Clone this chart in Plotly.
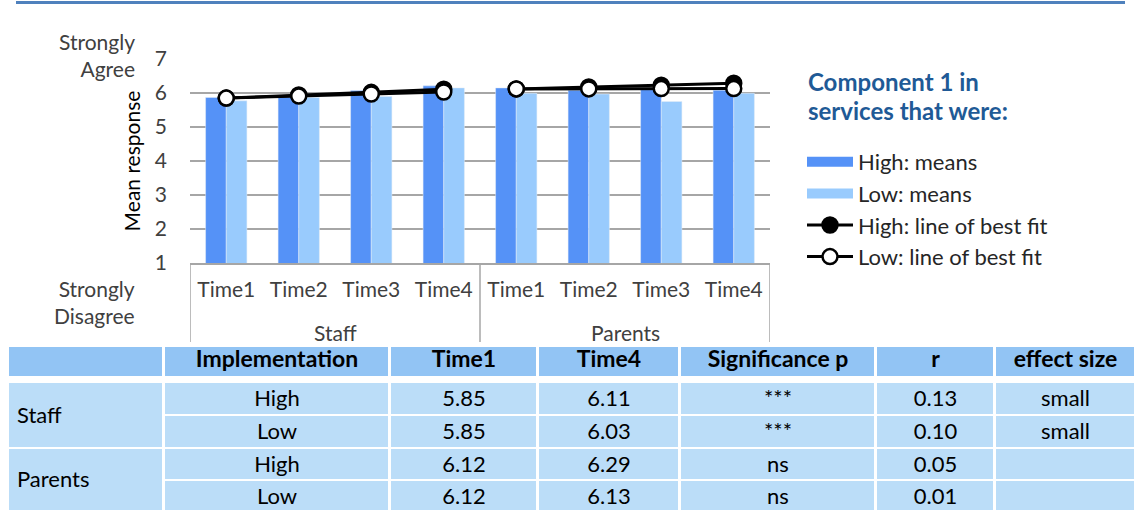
import plotly.graph_objects as go

# chart data
groups = ["Staff", "Parents"]
times = ["Time1", "Time2", "Time3", "Time4"]

high_means = [5.87, 5.88, 6.07, 6.21, 6.15, 6.08, 6.10, 6.08]
low_means = [5.77, 5.87, 5.90, 6.15, 5.99, 5.97, 5.75, 5.99]

high_fit_staff = [5.85, 5.94, 6.02, 6.11]
low_fit_staff = [5.85, 5.91, 5.97, 6.03]
high_fit_parents = [6.12, 6.18, 6.23, 6.29]
low_fit_parents = [6.12, 6.12, 6.13, 6.13]

# table data
table_header = ["", "Implementation", "Time1", "Time4", "Significance p", "r", "effect size"]
table_groups = ["Staff", "Parents"]
implementation = ["High", "Low", "High", "Low"]
time1_vals = ["5.85", "5.85", "6.12", "6.12"]
time4_vals = ["6.11", "6.03", "6.29", "6.13"]
significance = ["***", "***", "ns", "ns"]
r_vals = ["0.13", "0.10", "0.05", "0.01"]
effect_size = ["small", "small", "", ""]

W, H = 1140, 510
HIGH = "#5592F7"
LOW = "#99CBFD"
GRID = "#A6A6A6"
TXT = "#404040"
HEAD_FILL = "#92C4F4"
BODY_FILL = "#BBDDF8"
FONT = "Lato, sans-serif"


def px(v):
    return v / W


def py(v):
    return (H - v) / H


# one category per (group, time); tick text shows only the time
cats = [g + " " + t for g in groups for t in times]
ncat = len(cats)

fig = go.Figure()

fig.add_trace(go.Bar(x=cats, y=high_means, marker_color=HIGH, showlegend=False, name="High: means"))
fig.add_trace(go.Bar(x=cats, y=low_means, marker_color=LOW, showlegend=False, name="Low: means"))

# legend entries for the bars (wide swatches)
fig.add_trace(go.Scatter(x=[None], y=[None], mode="lines", line=dict(color=HIGH, width=12),
                         name="High: means", legendgroup="hm"))
fig.add_trace(go.Scatter(x=[None], y=[None], mode="lines", line=dict(color=LOW, width=12),
                         name="Low: means", legendgroup="lm"))

fits = [("High: line of best fit", "hf", "black", [high_fit_staff, high_fit_parents]),
        ("Low: line of best fit", "lf", "white", [low_fit_staff, low_fit_parents])]
for name, grp, fill, series in fits:
    for gi, g in enumerate(groups):
        fig.add_trace(go.Scatter(
            x=[g + " " + t for t in times], y=series[gi], mode="lines+markers",
            line=dict(color="black", width=3),
            marker=dict(size=15, color=fill, line=dict(color="black", width=2.5)),
            name=name, legendgroup=grp, showlegend=(gi == 0)))

# group labels and box lines under the category axis
annotations = []
shapes = [dict(type="rect", xref="paper", yref="paper", x0=px(16), x1=px(1125),
               y0=py(4), y1=py(1), fillcolor="#4F81BD", line=dict(width=0))]
for gi, g in enumerate(groups):
    annotations.append(dict(text=g, xref="x", yref="paper", x=gi * len(times) + (len(times) - 1) / 2,
                            y=py(332), xanchor="center", yanchor="middle", showarrow=False,
                            font=dict(size=21, color=TXT)))
for k in range(len(groups) + 1):
    shapes.append(dict(type="line", xref="x", yref="paper", x0=k * len(times) - 0.5,
                       x1=k * len(times) - 0.5, y0=py(263), y1=py(342),
                       line=dict(color=GRID, width=1.5)))

# table: cell fills as heatmap bricks on a hidden pixel-like axis
col_edges = [8, 164, 390, 538, 680, 876, 995, 1136]
row_edges = [346, 377, 382, 415, 448, 480, 512]
z = [[0] * 7, [None] * 7]
for _ in range(4):
    z.append([None] + [1] * 6)
fig.add_trace(go.Heatmap(x=col_edges, y=row_edges, z=z, xaxis="x2", yaxis="y2",
                         colorscale=[[0, HEAD_FILL], [1, BODY_FILL]], zmin=0, zmax=1,
                         showscale=False, xgap=3, ygap=2, hoverinfo="skip"))
fig.add_trace(go.Heatmap(x=col_edges[:2], y=[382, 448, 512], z=[[1], [1]], xaxis="x2", yaxis="y2",
                         colorscale=[[0, HEAD_FILL], [1, BODY_FILL]], zmin=0, zmax=1,
                         showscale=False, xgap=3, ygap=2, hoverinfo="skip"))

col_mid = [(a + b) / 2 for a, b in zip(col_edges[:-1], col_edges[1:])]
body_rows = [(a + b) / 2 + 2 for a, b in zip(row_edges[2:-1], row_edges[3:])]
body_cols = [implementation, time1_vals, time4_vals, significance, r_vals, effect_size]

fig.add_trace(go.Scatter(x=col_mid[1:], y=[(row_edges[0] + row_edges[1]) / 2] * 6,
                         text=["<b>%s</b>" % h for h in table_header[1:]], mode="text",
                         textfont=dict(size=23, color="black"), xaxis="x2", yaxis="y2",
                         showlegend=False, hoverinfo="skip"))
tx, ty, tt = [], [], []
for ci, col in enumerate(body_cols):
    for ri, val in enumerate(col):
        tx.append(col_mid[ci + 1])
        ty.append(body_rows[ri])
        tt.append(val)
fig.add_trace(go.Scatter(x=tx, y=ty, text=tt, mode="text", textfont=dict(size=22, color="black"),
                         xaxis="x2", yaxis="y2", showlegend=False, hoverinfo="skip"))
fig.add_trace(go.Scatter(x=[17, 17], y=[417, 481], text=table_groups, mode="text",
                         textposition="middle right", textfont=dict(size=22, color="black"),
                         xaxis="x2", yaxis="y2", showlegend=False, hoverinfo="skip"))

annotations += [
    dict(text="<b>Component 1 in</b>", xref="paper", yref="paper", x=px(806), y=py(82),
         xanchor="left", yanchor="middle", showarrow=False, font=dict(size=24, color="#1F5A96")),
    dict(text="<b>services that were:</b>", xref="paper", yref="paper", x=px(806), y=py(110),
         xanchor="left", yanchor="middle", showarrow=False, font=dict(size=24, color="#1F5A96")),
    dict(text="Strongly<br>Agree", xref="paper", yref="paper", x=px(137), y=py(55),
         xanchor="right", yanchor="middle", align="right", showarrow=False,
         font=dict(size=21, color=TXT)),
    dict(text="Strongly<br>Disagree", xref="paper", yref="paper", x=px(137), y=py(302),
         xanchor="right", yanchor="middle", align="right", showarrow=False,
         font=dict(size=21, color=TXT)),
]

fig.update_layout(
    width=W, height=H,
    margin=dict(l=0, r=0, t=0, b=0, autoexpand=False),
    plot_bgcolor="white", paper_bgcolor="white",
    font=dict(family=FONT, size=21, color=TXT),
    barmode="group", bargap=0.43, bargroupgap=0,
    xaxis=dict(type="category", domain=[px(190), px(770)], anchor="y", range=[-0.5, ncat - 0.5],
               tickmode="array", tickvals=cats, ticktext=times * len(groups),
               showline=True, linecolor=GRID, linewidth=1.5, ticklabelstandoff=7,
               tickfont=dict(size=21, color=TXT), showgrid=False),
    yaxis=dict(domain=[py(263), py(59)], range=[1, 7], dtick=1, anchor="x",
               showgrid=True, gridcolor=GRID, gridwidth=1.5, zeroline=False, showline=False,
               ticklabelstandoff=22, tickfont=dict(size=21, color=TXT),
               title=dict(text="Mean response", font=dict(size=21, color="black"), standoff=8)),
    xaxis2=dict(domain=[0, 1], range=[0, W], visible=False, anchor="y2", fixedrange=True),
    yaxis2=dict(domain=[0, py(346)], range=[510, 346], visible=False, anchor="x2", fixedrange=True),
    legend=dict(x=px(802), xanchor="left", y=py(141), yanchor="top",
                font=dict(size=22, color="#262626"), tracegroupgap=0, itemwidth=46,
                bgcolor="rgba(0,0,0,0)", traceorder="grouped"),
    shapes=shapes,
    annotations=annotations,
)

fig.write_html("out.html", config={"displayModeBar": False},
               post_script="document.body.style.margin='0';")
